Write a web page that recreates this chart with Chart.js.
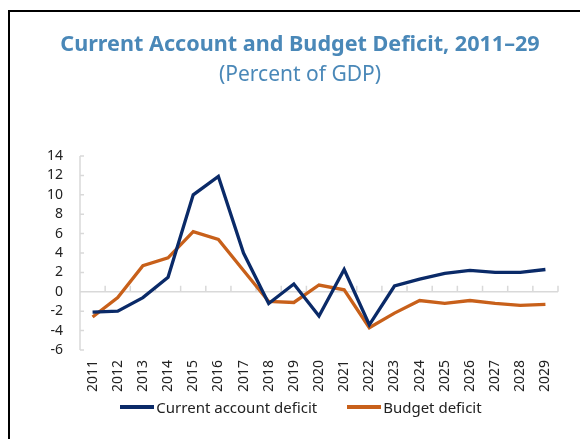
<!DOCTYPE html>
<html>
<head>
<meta charset="utf-8">
<script src="https://cdn.jsdelivr.net/npm/chart.js@4"></script>
<style>
  html, body { margin: 0; padding: 0; background: #fff; }
  #wrap { position: absolute; left: 0; top: 0; width: 580px; height: 439px; overflow: hidden;
          font-family: 'Noto Sans', 'Open Sans', sans-serif; }
  #frame { position: absolute; left: 8px; top: 10px; width: 600px; height: 460px;
           border-left: 2px solid #000; border-top: 2px solid #000; pointer-events: none; }
  .ttl { position: absolute; left: 0; width: 600px; text-align: center; color: #4a88b8;
         white-space: nowrap; line-height: 1; }
  #title { top: 32px; font-size: 21.6px; font-weight: bold; }
  #subtitle { top: 63px; font-size: 21px; }
  canvas { position: absolute; left: 0; top: 0; }
  #legend { position: absolute; left: 0; top: 396px; width: 602px; display: flex;
            justify-content: center; gap: 30px; font-size: 15px; color: #222; line-height: 22px; }
  #legend .item { display: flex; align-items: center; white-space: nowrap; }
  #legend .swatch { display: inline-block; width: 34px; height: 4px; margin-right: 2px; }
</style>
</head>
<body>
<div id="wrap">
  <canvas id="chart" width="580" height="439"></canvas>
  <div id="title" class="ttl">Current Account and Budget Deficit, 2011–29</div>
  <div id="subtitle" class="ttl">(Percent of GDP)</div>
  <div id="legend"></div>
  <div id="frame"></div>
</div>
<script>
const years = ['2011','2012','2013','2014','2015','2016','2017','2018','2019','2020',
               '2021','2022','2023','2024','2025','2026','2027','2028','2029'];
const currentAccount = [-2.1, -2.0, -0.6, 1.5, 10.0, 11.9, 4.0, -1.2, 0.8, -2.5,
                        2.3, -3.4, 0.6, 1.3, 1.9, 2.2, 2.0, 2.0, 2.3];
const budgetDeficit  = [-2.6, -0.6, 2.7, 3.5, 6.2, 5.4, 2.2, -1.0, -1.1, 0.7,
                        0.2, -3.7, -2.2, -0.9, -1.2, -0.9, -1.2, -1.4, -1.3];
const yTicks = { min: -6, max: 14, step: 2 };

const FONT = "'Noto Sans', 'Open Sans', sans-serif";
const AXIS_GREY = '#d9d9d9';

// light grey axis lines: y axis on the left, x axis through zero, short ticks inside the plot
const axisLines = {
  id: 'axisLines',
  beforeDatasetsDraw(chart) {
    const { ctx, chartArea: a, scales: { x, y } } = chart;
    const y0 = y.getPixelForValue(0);
    ctx.save();
    ctx.strokeStyle = AXIS_GREY;
    ctx.lineWidth = 1.5;
    ctx.beginPath();
    ctx.moveTo(a.left, y.getPixelForValue(yTicks.max));
    ctx.lineTo(a.left, y.getPixelForValue(yTicks.min));
    for (let v = yTicks.min; v <= yTicks.max; v += yTicks.step) {
      const py = y.getPixelForValue(v);
      ctx.moveTo(a.left, py);
      ctx.lineTo(a.left + 4, py);
    }
    ctx.moveTo(a.left, y0);
    ctx.lineTo(a.right, y0);
    for (let i = 1; i <= years.length; i++) {
      const bx = i === years.length ? a.right
        : (x.getPixelForValue(i - 1) + x.getPixelForValue(i)) / 2;
      ctx.moveTo(bx, y0);
      ctx.lineTo(bx, y0 - 6);
    }
    ctx.stroke();
    ctx.restore();
  }
};

// legend as html, built from the chart's own legend items
const htmlLegend = {
  id: 'htmlLegend',
  afterUpdate(chart) {
    const box = document.getElementById('legend');
    box.innerHTML = '';
    Chart.defaults.plugins.legend.labels.generateLabels(chart).forEach(item => {
      const div = document.createElement('div');
      div.className = 'item';
      div.innerHTML = `<span class="swatch" style="background:${item.strokeStyle}"></span><span>${item.text}</span>`;
      box.appendChild(div);
    });
  }
};

const ctx = document.getElementById('chart').getContext('2d');
new Chart(ctx, {
  type: 'line',
  data: {
    labels: years,
    datasets: [
      { label: 'Current account deficit', data: currentAccount,
        borderColor: '#0a2a68', backgroundColor: '#0a2a68', borderWidth: 3.3,
        pointRadius: 0, tension: 0 },
      { label: 'Budget deficit', data: budgetDeficit,
        borderColor: '#c8601a', backgroundColor: '#c8601a', borderWidth: 3.3,
        pointRadius: 0, tension: 0 }
    ]
  },
  options: {
    responsive: false,
    animation: false,
    layout: { padding: { left: 40, right: 22, top: 156, bottom: 44 } },
    scales: {
      x: {
        offset: true,
        grid: { display: false, drawTicks: false },
        border: { display: false },
        ticks: { minRotation: 90, maxRotation: 90, padding: 10, color: '#222',
                 autoSkip: false, font: { family: FONT, size: 14 } },
        afterFit(scale) { scale.height = 45; }
      },
      y: {
        min: yTicks.min, max: yTicks.max,
        grid: { display: false, drawTicks: false },
        border: { display: false },
        ticks: { stepSize: yTicks.step, padding: 17, color: '#222', autoSkip: false,
                 font: { family: FONT, size: 14 } },
        afterFit(scale) { scale.width = 40; }
      }
    },
    plugins: {
      title: { display: false },
      legend: { display: false },
      tooltip: { enabled: false }
    }
  },
  plugins: [axisLines, htmlLegend]
});
</script>
</body>
</html>
